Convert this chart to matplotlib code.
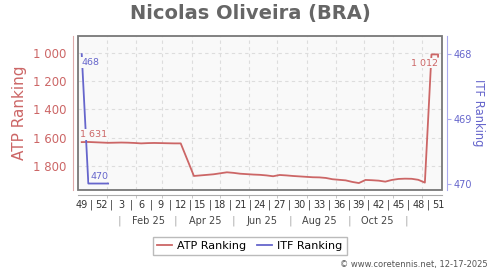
import numpy as np
import matplotlib
matplotlib.use("Agg")
import matplotlib.pyplot as plt
from matplotlib.patches import Rectangle

# weeks counted from ISO week 49 of 2024 (week 0), plotted at mid-week
atp_weeks = list(range(0, 55)) + [54]
atp_rank = [1631, 1630, 1632, 1634, 1636, 1635, 1634, 1635, 1637, 1640,
            1638, 1637, 1638, 1639, 1640, 1640, 1755, 1870, 1866, 1862,
            1858, 1851, 1844, 1848, 1854, 1857, 1860, 1862, 1866, 1872,
            1863, 1866, 1870, 1873, 1876, 1879, 1880, 1884, 1893, 1897,
            1901, 1912, 1920, 1898, 1900, 1903, 1910, 1898, 1891, 1889,
            1890, 1897, 1917, 1012, 1012, 1028]
itf_weeks = [0, 1, 2, 3, 4]
itf_rank = [468, 470, 470, 470, 470]

week_labels = ['49', '52', '3', '6', '9', '12', '15', '18', '21', '24', '27',
               '30', '33', '36', '39', '42', '45', '48', '51']
month_labels = ['Feb 25', 'Apr 25', 'Jun 25', 'Aug 25', 'Oct 25']
atp_ticks = [1000, 1200, 1400, 1600, 1800]
itf_ticks = [468, 469, 470]

red = '#cc6666'
blue = '#6666cc'
bg = '#f9f9f9'

# convert dates to week positions (week 0 centre = 2024-12-05 12:00)
t0 = np.datetime64('2024-12-05T12:00')
def wpos(d):
    return (np.datetime64(d) - t0) / np.timedelta64(7, 'D')

month_starts = [wpos('2025-%02d-01' % m) for m in range(1, 13)]
month_seps = [wpos(d) for d in ['2025-01-15', '2025-03-15', '2025-05-15',
                                '2025-07-15', '2025-09-15', '2025-11-15']]
month_mid = [wpos(d) for d in ['2025-02-14', '2025-04-15', '2025-06-15',
                               '2025-08-15', '2025-10-15']]

fig = plt.figure(figsize=(5, 2.7), dpi=100)
ax = fig.add_axes([0.1566, 0.2963, 0.7268, 0.5704])
ax.set_facecolor(bg)
ax2 = ax.twinx()

ax.plot(atp_weeks, atp_rank, color=red, lw=1.3, zorder=3)
ax2.plot(itf_weeks, itf_rank, color=blue, lw=1.3, zorder=3)

ax.set_xlim(-0.52, 54.55)
ax.set_ylim(1969, 882)
ax2.set_ylim(470.10, 467.72)

# x axis: week numbers, month grid, month row
ax.set_xticks(range(0, 55, 3))
ax.set_xticklabels(week_labels)
ax.set_xticks(month_starts, minor=True)
ax.tick_params(axis='x', which='major', length=0, pad=3.5, labelsize=7, labelcolor='#333')
ax.tick_params(axis='x', which='minor', length=2.5, color='#bbbbbb')
ax.grid(True, which='minor', axis='x', color='#dddddd', ls=(0, (3, 3)), lw=0.8)
ax.grid(True, which='major', axis='y', color='#dddddd', ls=(0, (3, 3)), lw=0.8)
ax.set_axisbelow(True)

for w in np.arange(1.5, 54, 3):
    ax.annotate('|', xy=(w, 0), xycoords=('data', 'axes fraction'),
                xytext=(0, -7.1), textcoords='offset points',
                ha='center', va='top', fontsize=7, color='#333')
for w in month_seps:
    ax.annotate('|', xy=(w, 0), xycoords=('data', 'axes fraction'),
                xytext=(0, -18.5), textcoords='offset points',
                ha='center', va='top', fontsize=7.5, color='#aaaaaa')
for w, lab in zip(month_mid, month_labels):
    ax.annotate(lab, xy=(w, 0), xycoords=('data', 'axes fraction'),
                xytext=(0, -18.5), textcoords='offset points',
                ha='center', va='top', fontsize=7, color='#444')

# left axis
ax.set_yticks(atp_ticks)
ax.set_yticklabels([f'{v:,}'.replace(',', ' ') for v in atp_ticks])
ax.tick_params(axis='y', length=0, pad=5, labelsize=8.5, labelcolor=red)
ax.set_ylabel('ATP Ranking', color=red, fontsize=11, labelpad=4)

# right axis
ax2.set_yticks(itf_ticks)
ax2.tick_params(axis='y', length=3, color='#aaaaee', pad=2, labelsize=7, labelcolor=blue)
ax2.set_ylabel('ITF Ranking', color=blue, fontsize=8.3, rotation=-90, labelpad=9)

for a in (ax, ax2):
    for s in a.spines.values():
        s.set_visible(False)
ax.spines['left'].set_visible(True)
ax.spines['left'].set_position(('outward', 3.6))
ax.spines['left'].set_color('#ddaaaa')
ax.spines['bottom'].set_visible(True)
ax.spines['bottom'].set_position(('outward', 3.6))
ax.spines['bottom'].set_color('#aaaaaa')
ax2.spines['right'].set_visible(True)
ax2.spines['right'].set_position(('outward', 3.6))
ax2.spines['right'].set_color('#aaaaee')

ax2.add_patch(Rectangle((0, 0), 1, 1, transform=ax.transAxes, fill=False,
                        edgecolor='#777777', lw=1.3, clip_on=False, zorder=5))

# value labels
box = dict(facecolor=bg, edgecolor='none', pad=0.6)
ax2.annotate('1 631', xy=(atp_weeks[0], atp_rank[0]), xycoords=ax.transData,
             xytext=(-1, 2), textcoords='offset points', ha='left', va='bottom',
             fontsize=6.8, color=red, bbox=box, zorder=6)
ax2.annotate('1 012', xy=(54, 1012), xycoords=ax.transData,
             xytext=(0, -3), textcoords='offset points', ha='right', va='top',
             fontsize=6.8, color=red, bbox=box, zorder=6)
ax2.annotate('468', xy=(itf_weeks[0], itf_rank[0]), xycoords='data',
             xytext=(-0.5, -3), textcoords='offset points', ha='left', va='top',
             fontsize=6.8, color=blue, bbox=box, zorder=6)
ax2.annotate('470', xy=(itf_weeks[-1], itf_rank[-1]), xycoords='data',
             xytext=(0, 2), textcoords='offset points', ha='right', va='bottom',
             fontsize=6.8, color=blue, bbox=box, zorder=6)

fig.text(0.5, 1 - 13 / 270, 'Nicolas Oliveira (BRA)', ha='center', va='center',
         fontsize=14, fontweight='bold', color='#666666')

h1, = ax.plot([], [], color=red, lw=1.3, label='ATP Ranking')
h2, = ax.plot([], [], color=blue, lw=1.3, label='ITF Ranking')
fig.legend(handles=[h1, h2], loc='center', bbox_to_anchor=(0.5, 1 - 246 / 270),
           ncol=2, fontsize=8, frameon=True, fancybox=False, edgecolor='#aaaaaa',
           handlelength=1.3, handletextpad=0.5, columnspacing=1.0,
           borderpad=0.35, borderaxespad=0)

fig.text(0.976, 1 - 264 / 270, '\u00a9 www.coretennis.net, 12-17-2025', ha='right',
         va='center', fontsize=6, color='#555555')

fig.savefig('out.png', dpi=100)
